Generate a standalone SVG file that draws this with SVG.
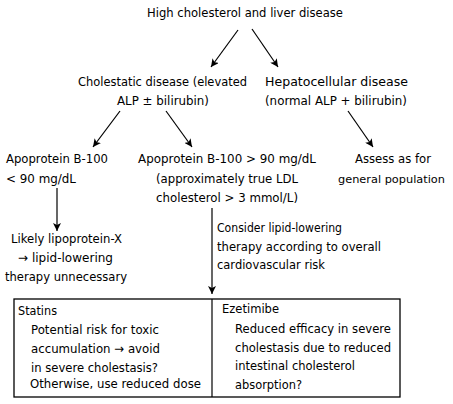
<svg xmlns="http://www.w3.org/2000/svg" width="453" height="404" viewBox="0 0 453 404">
<style>
text{font-family:"DejaVu Sans",Verdana,sans-serif;font-size:12.6px;fill:#000}
.ln{stroke:#000;stroke-width:1.2;fill:none}
.box{stroke:#000;stroke-width:1.3;fill:#fff}
</style>
<defs>
<marker id="ah" viewBox="0 0 10 10" refX="10" refY="5" markerWidth="8" markerHeight="8" markerUnits="userSpaceOnUse" orient="auto">
<path d="M0,0 L10,5 L0,10 L2.5,5 Z" fill="#000"/>
</marker>
</defs>
<rect width="453" height="404" fill="#fff"/>
<g id="connectors">
<line class="ln" x1="238" y1="30" x2="211" y2="67" marker-end="url(#ah)"/>
<line class="ln" x1="252" y1="29" x2="278" y2="67" marker-end="url(#ah)"/>
<line class="ln" x1="120" y1="111" x2="93" y2="147" marker-end="url(#ah)"/>
<line class="ln" x1="166" y1="111" x2="192" y2="147" marker-end="url(#ah)"/>
<line class="ln" x1="348" y1="111" x2="373" y2="147" marker-end="url(#ah)"/>
<line class="ln" x1="57" y1="188" x2="57" y2="231" marker-end="url(#ah)"/>
<line class="ln" x1="212" y1="208" x2="212" y2="294" marker-end="url(#ah)"/>
</g>
<g id="n-root"><text x="147" y="17" textLength="196" lengthAdjust="spacingAndGlyphs">High cholesterol and liver disease</text></g>
<g id="n-cholestatic">
<text x="78" y="86" textLength="169" lengthAdjust="spacingAndGlyphs">Cholestatic disease (elevated</text>
<text x="117" y="105" textLength="92" lengthAdjust="spacingAndGlyphs">ALP ± bilirubin)</text>
</g>
<g id="n-hepato">
<text x="265" y="86" textLength="143" lengthAdjust="spacingAndGlyphs">Hepatocellular disease</text>
<text x="265" y="105" textLength="142" lengthAdjust="spacingAndGlyphs">(normal ALP + bilirubin)</text>
</g>
<g id="n-low">
<text x="6" y="163" textLength="102" lengthAdjust="spacingAndGlyphs">Apoprotein B-100</text>
<text x="6" y="183" textLength="70" lengthAdjust="spacingAndGlyphs">&lt; 90 mg/dL</text>
</g>
<g id="n-high">
<text x="138" y="163" textLength="178" lengthAdjust="spacingAndGlyphs">Apoprotein B-100 &gt; 90 mg/dL</text>
<text x="156" y="183" textLength="142" lengthAdjust="spacingAndGlyphs">(approximately true LDL</text>
<text x="156" y="202" textLength="142" lengthAdjust="spacingAndGlyphs">cholesterol &gt; 3 mmol/L)</text>
</g>
<g id="n-assess">
<text x="355" y="163" textLength="76" lengthAdjust="spacingAndGlyphs">Assess as for</text>
<text x="338" y="183" style="font-size:11.3px" textLength="107" lengthAdjust="spacingAndGlyphs">general population</text>
</g>
<g id="n-lpx">
<text x="11" y="243" textLength="111" lengthAdjust="spacingAndGlyphs">Likely lipoprotein-X</text>
<text x="18" y="262" textLength="95" lengthAdjust="spacingAndGlyphs">→ lipid-lowering</text>
<text x="5" y="281" textLength="122" lengthAdjust="spacingAndGlyphs">therapy unnecessary</text>
</g>
<g id="n-consider">
<text x="217" y="232" textLength="125" lengthAdjust="spacingAndGlyphs">Consider lipid-lowering</text>
<text x="217" y="251" textLength="164" lengthAdjust="spacingAndGlyphs">therapy according to overall</text>
<text x="217" y="269" textLength="108" lengthAdjust="spacingAndGlyphs">cardiovascular risk</text>
</g>
<g id="n-therapy">
<rect class="box" x="14" y="299" width="386" height="98"/>
<line class="ln" x1="212" y1="299" x2="212" y2="397"/>
<text x="18" y="315" textLength="39" lengthAdjust="spacingAndGlyphs">Statins</text>
<text x="31" y="334" textLength="128" lengthAdjust="spacingAndGlyphs">Potential risk for toxic</text>
<text x="31" y="353" textLength="129" lengthAdjust="spacingAndGlyphs">accumulation → avoid</text>
<text x="31" y="372" textLength="127" lengthAdjust="spacingAndGlyphs">in severe cholestasis?</text>
<text x="30" y="388" textLength="171" lengthAdjust="spacingAndGlyphs">Otherwise, use reduced dose</text>
<text x="222" y="313" textLength="57" lengthAdjust="spacingAndGlyphs">Ezetimibe</text>
<text x="235" y="333" textLength="156" lengthAdjust="spacingAndGlyphs">Reduced efficacy in severe</text>
<text x="235" y="352" textLength="156" lengthAdjust="spacingAndGlyphs">cholestasis due to reduced</text>
<text x="235" y="370" textLength="120" lengthAdjust="spacingAndGlyphs">intestinal cholesterol</text>
<text x="235" y="389" textLength="67" lengthAdjust="spacingAndGlyphs">absorption?</text>
</g>
</svg>
